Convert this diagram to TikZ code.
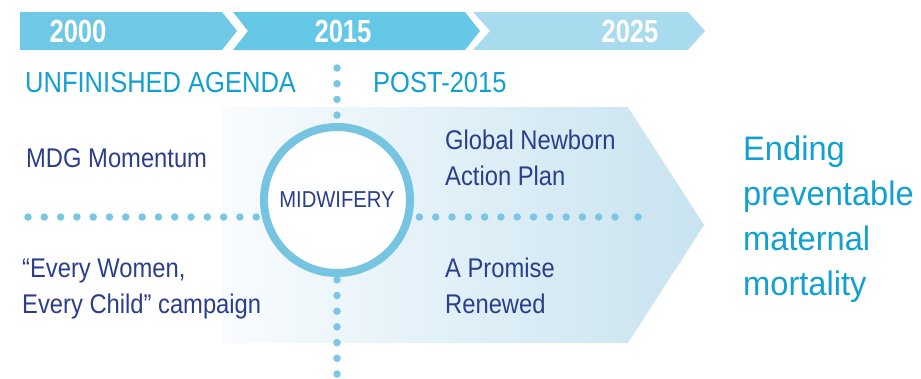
\documentclass[tikz,border=0pt]{standalone}
\usepackage{fontspec}
\setmainfont{Liberation Sans}[FakeStretch=0.88]
\newfontfamily\yearfont{Liberation Sans}[FakeStretch=0.8]
\newfontfamily\goalfont{Liberation Sans}[FakeStretch=0.96]
\usepackage{tikz}
\usetikzlibrary{arrows,shapes}
\usetikzlibrary{positioning}
\definecolor{bannerA}{RGB}{111,200,229}
\definecolor{bannerB}{RGB}{101,200,230}
\definecolor{bannerC}{RGB}{168,219,237}
\definecolor{headcyan}{RGB}{16,160,210}
\definecolor{navy}{RGB}{42,62,140}
\definecolor{ringblue}{RGB}{116,196,226}
\definecolor{dotblue}{RGB}{122,198,228}
\definecolor{fadeL}{RGB}{249,252,254}
\definecolor{fadeR}{RGB}{200,227,240}
\tikzstyle{year} = [text=white, anchor=base, inner sep=0pt,
    font=\yearfont\bfseries\fontsize{32}{32}\selectfont]
\tikzstyle{phase} = [text=headcyan, anchor=base west, inner sep=0pt,
    font=\fontsize{29}{29}\selectfont]
\tikzstyle{initiative} = [text=navy, anchor=base west, inner sep=0pt,
    align=left, font=\fontsize{27}{36}\selectfont]
\tikzstyle{goal} = [text=headcyan, anchor=base west, inner sep=0pt,
    align=left, font=\goalfont\fontsize{34}{45}\selectfont]
\tikzstyle{ring} = [circle, draw=ringblue, line width=8pt, fill=white,
    minimum size=146pt, inner sep=0pt, text=navy,
    font=\fontsize{23}{23}\selectfont]
\tikzstyle{dotline} = [draw=dotblue, line width=7.5pt, line cap=round,
    dash pattern=on 0pt off 16.3pt]

\begin{document}
\begin{tikzpicture}[x=1pt, y=-1pt]
  \useasboundingbox (0,0) rectangle (921,378);
  % Timeline banner
  \fill[bannerA] (20,12) -- (222,12) -- (237,31) -- (222,50) -- (20,50) -- cycle;
  \fill[bannerB] (233,12) -- (465,12) -- (480,31) -- (465,50) -- (233,50) -- (248,31) -- cycle;
  \fill[bannerC] (473,12) -- (688,12) -- (705,31) -- (688,50) -- (473,50) -- (490,31) -- cycle;
  \node [year] (y2000) at (78,42) {2000};
  \node [year] (y2015) at (343,42) {2015};
  \node [year] (y2025) at (630,42) {2025};
  % Phase headings
  \node [phase] (unfinished) at (25,92) {UNFINISHED AGENDA};
  \node [phase] (post) at (373,92) {POST-2015};
  % Big arrow behind everything
  \shade[left color=fadeL, right color=fadeR]
    (222,107) -- (628,107) -- (704,225) -- (628,343) -- (222,343) -- cycle;
  % Place nodes (multi-line ones sit on their last baseline)
  \node [ring] (mid) at (337,200) {MIDWIFERY};
  \node [initiative] (mdg) at (26,167) {MDG Momentum};
  \node [initiative] (ewec) at (22,313) {“Every Women,\\Every Child” campaign};
  \node [initiative] (gnap) at (445,185) {Global Newborn\\Action Plan};
  \node [initiative] (apr) at (445,313) {A Promise\\Renewed};
  \node [goal] (ending) at (743,295) {Ending\\preventable\\maternal\\mortality};
  % Dotted axes
  \coordinate (vt) at (337,68);
  \coordinate (vb) at (337,374);
  \coordinate (hl) at (28,217);
  \coordinate (hr) at (615,217);
  \coordinate (hx) at (638,217);
  \draw [dotline, dash pattern=on 0pt off 15.7pt] (vt) -- (vt |- mid.north);
  \draw [dotline, dash pattern=on 0pt off 15.7pt] (vb) -- (vb |- mid.south);
  \draw [dotline] (hl) -- (hl -| mid.west);
  \draw [dotline] (hr) -- (hr -| mid.east);
  \fill [dotblue] (hx) circle (3.75pt);
\end{tikzpicture}
\end{document}
